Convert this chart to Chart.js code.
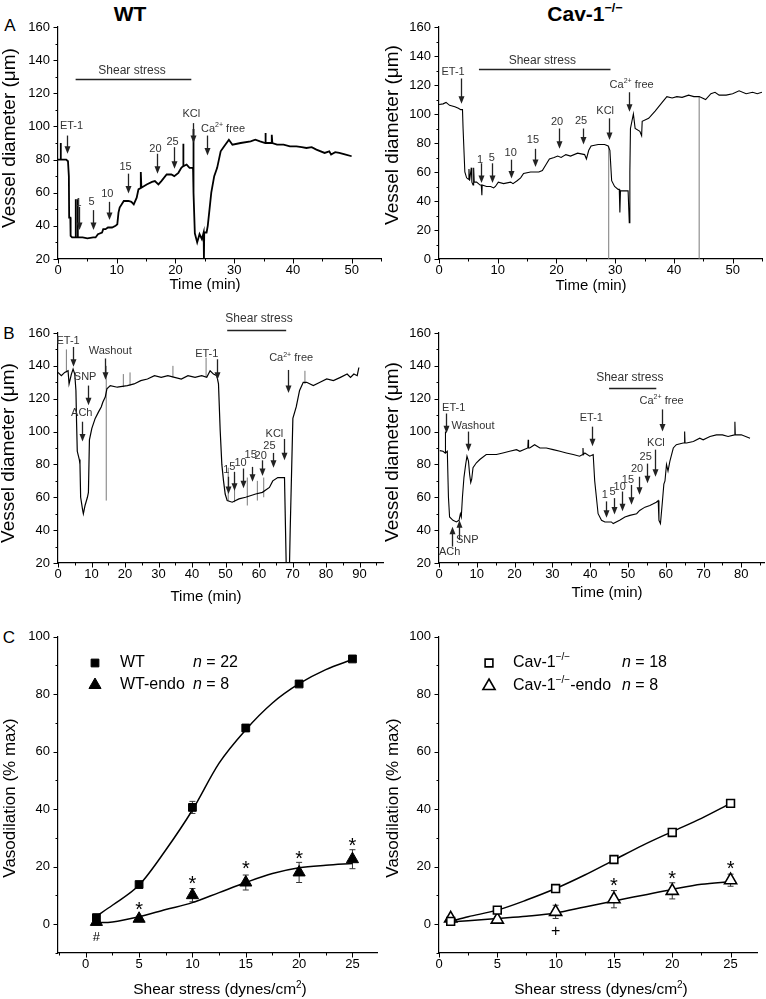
<!DOCTYPE html>
<html>
<head>
<meta charset="utf-8">
<script src="https://cdn.jsdelivr.net/npm/chart.js@4.4.1/dist/chart.umd.min.js"></script>
<style>
body { margin: 0; background: #fff; width: 766px; height: 999px; position: relative; overflow: hidden;
       font-family: "Liberation Sans", Arial, Helvetica, sans-serif; }
canvas { position: absolute; }
.ctr { position: absolute; transform: translate(-50%, -50%); white-space: nowrap; color: #000; line-height: 1; }
.ctr sup { font-size: 0.6em; vertical-align: 0.7em; }
</style>
</head>
<body>
<div class="ctr" style="left:130px;top:13px;font-size:21px;font-weight:bold">WT</div>
<div class="ctr" style="left:585px;top:13px;font-size:21px;font-weight:bold">Cav-1<sup>−/−</sup></div>
<div class="ctr" style="left:10px;top:25px;font-size:17px">A</div>
<div class="ctr" style="left:9px;top:333px;font-size:17px">B</div>
<div class="ctr" style="left:9px;top:637px;font-size:17px">C</div>

<canvas id="aWt" width="385" height="296" style="left:0;top:0"></canvas>
<canvas id="aCav" width="385" height="296" style="left:381px;top:0"></canvas>
<canvas id="bWt" width="385" height="297" style="left:0;top:310px"></canvas>
<canvas id="bCav" width="385" height="297" style="left:381px;top:310px"></canvas>
<canvas id="cWt" width="385" height="379" style="left:0;top:620px"></canvas>
<canvas id="cCav" width="385" height="379" style="left:381px;top:620px"></canvas>

<script>
const FONT = '"Liberation Sans", Arial, Helvetica, sans-serif';
Chart.defaults.font.family = FONT;

// ---------- ticks ----------
const aTimeTicks = [0, 5, 10, 15, 20, 25, 30, 35, 40, 45, 50, 55];
const bWtTimeTicks = [0, 5, 10, 15, 20, 25, 30, 35, 40, 45, 50, 55, 60, 65, 70, 75, 80, 85, 90, 95];
const bCavTimeTicks = [0, 5, 10, 15, 20, 25, 30, 35, 40, 45, 50, 55, 60, 65, 70, 75, 80, 85];
const diam20Ticks = [20, 30, 40, 50, 60, 70, 80, 90, 100, 110, 120, 130, 140, 150, 160];
const diam0Ticks = [0, 10, 20, 30, 40, 50, 60, 70, 80, 90, 100, 110, 120, 130, 140, 150, 160];
const cWtShearTicks = [-2.5, 0, 2.5, 5, 7.5, 10, 12.5, 15, 17.5, 20, 22.5, 25];
const cCavShearTicks = [0, 2.5, 5, 7.5, 10, 12.5, 15, 17.5, 20, 22.5, 25];
const vasoTicks = [-10, 0, 10, 20, 30, 40, 50, 60, 70, 80, 90, 100];

// ---------- A: diameter traces [time (min), diameter (um)] ----------
const aWtTrace = [
  [0, 80], [0.45, 80], [0.45, 90], [0.5, 80], [1.4, 80], [1.7, 79], [1.85, 70], [1.9, 45], [2.1, 45], [2.15, 34],
  [2.4, 33], [3.0, 33], [3.0, 56], [3.05, 33], [3.35, 33], [3.35, 56], [3.4, 33], [4.2, 33], [5, 32.5], [6, 33],
  [6.4, 33], [6.8, 35], [7.5, 36], [7.7, 38], [8.1, 38], [8.5, 39], [9.2, 39], [9.8, 40], [10.1, 41], [10.3, 48],
  [10.5, 51], [11.2, 55], [12, 55], [12.5, 54.5], [12.9, 53], [13.4, 57], [13.7, 62], [14.1, 63], [14.1, 72.5],
  [14.2, 63], [15.1, 65], [16, 66.5], [16.5, 67], [17.1, 65], [17.6, 67], [18.5, 71], [19.3, 71], [19.8, 70],
  [20.5, 72], [21.0, 75], [21.3, 76], [21.3, 89.5], [21.4, 76], [21.9, 77], [22.4, 75], [22.9, 75], [23, 74],
  [23.05, 98.5], [23.1, 60], [23.3, 35.5], [23.7, 30], [24.1, 35], [24.5, 32], [24.8, 36], [24.85, 20], [24.9, 36],
  [25.3, 36], [25.5, 40], [25.8, 50], [26.1, 60], [26.6, 70], [27.1, 75], [27.7, 85], [28.3, 88], [29.1, 92],
  [29.7, 89], [31.1, 90], [32.8, 91], [33.6, 92], [34.4, 91], [35.3, 90], [35.3, 96], [35.4, 90], [36.4, 90],
  [36.4, 95], [36.5, 90], [37.3, 89], [38.4, 89], [39.5, 88], [40.6, 88], [41.5, 87.5], [42.3, 87], [43.2, 87.5],
  [44, 86], [45.4, 84], [46.2, 85], [46.5, 83], [47.2, 84.5], [47.9, 84], [49, 83], [50, 82]
];
const aCavTrace = [
  [0, 106.5], [0.7, 107], [1.2, 108], [1.8, 106], [2.7, 105], [3.3, 104], [3.7, 103], [4.0, 103], [4.1, 90],
  [4.4, 60], [4.7, 56], [5.0, 55], [5.1, 62], [5.2, 54], [5.5, 63], [5.6, 53], [5.8, 51], [5.9, 63], [6.0, 53],
  [6.4, 53], [7.0, 51], [7.2, 51], [7.3, 44], [7.35, 51], [8.1, 50], [8.8, 50], [9.3, 49], [9.6, 50], [10.1, 53],
  [11.0, 52], [12.2, 53], [12.6, 52], [13.3, 54], [13.9, 56], [14.4, 59], [15.6, 60], [17, 60], [17.6, 61],
  [18.2, 65], [18.8, 69], [19.6, 70], [20.2, 71], [20.8, 70], [21.6, 72], [22.4, 71], [23.6, 73], [24.8, 72],
  [25.1, 69], [25.5, 75], [25.9, 78], [27.1, 79], [28.2, 79], [28.8, 78], [29.1, 75], [29.4, 54], [29.9, 50],
  [30.5, 48], [30.7, 48], [30.8, 32], [30.9, 47], [31.7, 47], [32.2, 47], [32.4, 25], [32.5, 60], [32.6, 90],
  [33.1, 100], [33.4, 90], [34.2, 88], [34.5, 85], [34.6, 95], [35.7, 97], [36.8, 102], [38, 108], [38.8, 112],
  [39.7, 111], [40.5, 112], [41.4, 111.5], [42.5, 113], [43.4, 112], [44.3, 112], [45.4, 110], [46.3, 114],
  [47, 115], [47.7, 113], [48.9, 113], [50, 114], [51.1, 116], [52.3, 114], [53.4, 115], [54.2, 114], [55, 115]
];
// gray vertical artefacts [time, low, high]
const aCavSpikes = [[28.9, 0, 78], [44.3, 0, 112]];

// ---------- B: diameter traces ----------
const bWtTrace = [
  [0, 136], [1, 134], [2, 136], [3, 137], [3.3, 129], [4, 135], [4.5, 138], [5, 135], [5.35, 125], [5.55, 105],
  [5.75, 88], [6.36, 83], [6.56, 80], [6.76, 60], [7.37, 52], [7.57, 50], [8.07, 55], [8.78, 60], [9.08, 63],
  [9.38, 95], [10.1, 102], [11.1, 108], [12.1, 112], [12.9, 115], [13.4, 118], [14.1, 121], [14.6, 126],
  [15.6, 128], [17.7, 127], [20.7, 128], [22.7, 129], [24.7, 131], [26.7, 132], [28.8, 134], [30.8, 133],
  [32.8, 134], [34.8, 133], [36.8, 132], [38.8, 134], [40.9, 133], [42.9, 134], [44.4, 133], [45.4, 137],
  [46.4, 135], [47.4, 134], [47.9, 129], [48.4, 101], [48.9, 80], [49.4, 70], [49.9, 62], [50.5, 58], [52, 57],
  [54, 59], [56, 60], [59, 62], [61, 63], [63.1, 66], [64.1, 70], [65.6, 72], [67.6, 72], [68.1, 20], [69.1, 20],
  [69.3, 40], [70.1, 108], [71.1, 115], [72.1, 125], [73.2, 130], [74.2, 130], [76.2, 128], [78.2, 130],
  [80.2, 132], [82.2, 131], [84.3, 133], [86.3, 135], [87.3, 133], [88.3, 135], [89.3, 134], [89.8, 139]
];
const bWtSpikes = [
  [2.5, 136, 150], [14.4, 58, 140], [19.5, 127, 135], [21.5, 128, 136], [34.3, 133, 140], [44.2, 133, 145],
  [50.8, 58, 78], [52.7, 57, 73], [56.5, 55, 72], [59.5, 58, 70], [61.4, 60, 72], [73.7, 129, 137]
];
const bCavTrace = [
  [0.2, 88.4], [1.06, 88], [1.6, 87], [1.68, 100], [1.75, 87], [2.2, 88], [2.5, 60], [2.8, 48], [3.7, 46],
  [4.6, 45], [5.3, 46], [5.65, 50], [5.9, 48], [6.2, 60], [6.6, 72], [7.06, 80], [7.4, 85], [7.8, 82], [8.1, 74],
  [8.4, 69], [8.65, 71], [9.0, 78], [9.9, 81], [10.8, 83], [12.5, 86], [15.2, 86], [16.9, 87], [18.7, 88],
  [20.5, 89], [21.4, 88], [23.5, 90], [23.6, 95], [23.7, 90], [24, 90], [25.3, 92], [26.7, 90], [28.4, 90],
  [30.2, 89], [32, 88], [33.7, 87], [35.5, 86], [37.2, 85], [38.0, 86], [38.1, 90], [38.2, 86], [38.6, 87],
  [39.9, 85], [40.8, 86], [41.2, 70], [42.1, 50], [43, 46], [43.9, 45], [45.6, 45], [46.1, 44], [47.8, 46],
  [49.2, 48], [50.5, 49], [52.3, 50], [53.1, 52], [54.5, 54], [55.8, 55], [56.7, 56], [57.5, 57], [58, 58],
  [58.2, 46], [58.6, 44], [59.1, 57], [59.5, 68], [59.8, 70], [60.2, 80], [60.6, 76], [61.1, 82], [62, 90],
  [62.8, 92], [64.6, 93], [64.9, 93], [65, 100], [65.1, 93], [65.5, 93], [67.3, 94], [69, 96], [69.9, 95],
  [71.7, 97], [73.4, 98], [75, 98], [76.5, 97], [78.2, 98], [78.3, 106], [78.4, 98], [80, 98], [82.3, 96]
];

// ---------- C: shear-stress response ----------
const cShear = [1, 5, 10, 15, 20, 25];
const cWtMean = [2.3, 13.8, 40.6, 68.2, 83.5, 92.2];
const cWtErr = [1, 1, 2.1, 1.2, 0.8, 0.8];
const cWtEndoMean = [0.8, 1.9, 10.1, 14.5, 18, 22.6];
const cWtEndoErr = [0.5, 0.8, 2.3, 2.6, 3.5, 3.3];
const cCavMean = [1, 4.9, 12.4, 22.5, 31.9, 42];
const cCavErr = [0.5, 0.6, 0.6, 0.8, 0.8, 1.2];
const cCavEndoMean = [2, 1.6, 4.3, 8.7, 11.6, 15.3];
const cCavEndoErr = [0.8, 1, 2.3, 3, 2.8, 2.1];
const cFitShear = [1, 2.5, 5, 7.5, 10, 12.5, 15, 17.5, 20, 22.5, 25];
const cWtFit = [2.8, 6.6, 13.6, 25.8, 39.7, 56, 67.6, 76.9, 83.6, 88.5, 92];
const cWtEndoFit = [0.5, 0.8, 2.6, 5.1, 7.5, 11, 14.5, 17.6, 19.6, 20.5, 21.1];
const cCavFit = [1, 2.6, 4.9, 8.4, 12.4, 17.1, 22.3, 27.5, 32.2, 36.8, 42];
const cCavEndoFit = [0.8, 1.2, 2, 2.8, 3.9, 6, 8.1, 10.1, 12.1, 13.9, 14.8];

// ---------- annotations: [time, diameter, text, size] / arrows [time, from, to] / bars [t1, t2, y] ----------
const panels = {
  aWt: {
    xTitle: ['Time (min)', 205, 285, 15], yTitle: ['Vessel diameter (\u03bcm)', 10, 138, 19],
    notes: [[2.3, 100, 'ET-1'], [3.5, 54, '1'], [5.7, 54.5, '5'], [8.4, 59.5, '10'], [11.5, 75.5, '15'],
            [16.6, 86.5, '20'], [19.5, 90.5, '25'], [22.7, 107.5, 'KCl'], [28.1, 98.5, 'Ca^{2+} free'],
            [12.6, 133.5, 'Shear stress', 12]],
    arrows: [[1.5, 94.5, 83.5], [3.5, 51.5, 37.5], [5.9, 49.5, 37.5], [8.7, 54.5, 43.5], [11.9, 71.5, 59.5],
             [16.8, 83.5, 71.5], [19.7, 87.5, 74.5], [23.0, 102, 90], [25.4, 94.5, 82.5]],
    bars: [[3, 22.7, 128.5]]
  },
  aCav: {
    xTitle: ['Time (min)', 210, 286, 15], yTitle: ['Vessel diameter (\u03bcm)', 12, 135, 19],
    notes: [[2.4, 129, 'ET-1'], [7.0, 68.5, '1'], [9.0, 70, '5'], [12.2, 73, '10'], [16.0, 82, '15'],
            [20.1, 94.5, '20'], [24.2, 95.5, '25'], [28.3, 102, 'KCl'], [32.8, 120, 'Ca^{2+} free'],
            [17.6, 136.5, 'Shear stress', 12]],
    arrows: [[3.7, 124.5, 107], [7.1, 66, 52.5], [9.1, 66, 52.5], [12.2, 68.5, 55.5], [16.3, 76, 63.5],
             [20.5, 90, 76], [24.5, 90, 79], [28.9, 97, 82], [32.3, 115, 101.5]],
    bars: [[6.8, 29.2, 131.3]]
  },
  bWt: {
    xTitle: ['Time (min)', 206, 287, 15], yTitle: ['Vessel diameter (\u03bcm)', 9, 143, 19],
    notes: [[3.0, 155, 'ET-1'], [8.1, 133, 'SNP'], [7.1, 111.5, 'ACh'], [15.6, 149, 'Washout'],
            [44.4, 147.5, 'ET-1'], [69.6, 144.5, 'Ca^{2+} free'], [64.6, 98.5, 'KCl'], [63.1, 91, '25'],
            [60.5, 85, '20'], [57.5, 86, '15'], [54.5, 81, '10'], [52, 78.5, '5'], [50.2, 76.5, '1'],
            [60, 169, 'Shear stress', 12]],
    arrows: [[4.5, 151.5, 139.5], [9.1, 128, 116], [7.1, 106, 94], [13.9, 144.5, 131.5], [47.4, 144, 131.5],
             [68.6, 137.5, 123.5], [67.4, 95.5, 82.5], [64.3, 87, 78], [61, 82.5, 73], [58, 78.5, 69.5],
             [55.2, 77.5, 65.5], [52.6, 75.5, 64], [50.8, 72.5, 62]],
    bars: [[50.5, 68.1, 161.8]]
  },
  bCav: {
    xTitle: ['Time (min)', 226, 283, 15], yTitle: ['Vessel diameter (\u03bcm)', 12, 142, 19],
    notes: [[3.9, 114.5, 'ET-1'], [9, 103.5, 'Washout'], [2.8, 27, 'ACh'], [7.5, 34, 'SNP'], [40.3, 108, 'ET-1'],
            [58.9, 118.5, 'Ca^{2+} free'], [57.4, 93, 'KCl'], [54.7, 84.5, '25'], [52.4, 77, '20'],
            [50, 70.5, '15'], [47.8, 66, '10'], [45.9, 63.5, '5'], [43.9, 61.5, '1'],
            [50.5, 133, 'Shear stress', 12]],
    arrows: [[1.8, 111, 99], [7.7, 100, 88], [3.5, 30, 42], [5.3, 34, 46], [40.6, 103, 91], [58.9, 113.5, 100],
             [57.1, 89, 72.5], [55.1, 80.5, 68.5], [52.8, 72.5, 61.5], [50.8, 67.5, 55.5], [48.4, 63.5, 51.5],
             [46.2, 59.5, 49.5], [44.1, 57.5, 47.5]],
    bars: [[45, 57.5, 126.8]]
  },
  cWt: {
    xTitle: ['Shear stress (dynes/cm^{2})', 220, 370, 15.5], yTitle: ['Vasodilation (% max)', 10, 178, 17],
    noteColor: '#000',
    notes: [[5, 6.4, '*', 20], [10, 15.5, '*', 20], [15, 20.5, '*', 20], [20, 24, '*', 20], [25, 28.5, '*', 20],
            [1, -4.5, '#', 13]],
    errors: [[cWtMean, cWtErr], [cWtEndoMean, cWtEndoErr]],
    legend: [['rect', true, 95, 43, 'WT', 120, '~{n} = 22', 193],
             ['triangle', true, 95, 65, 'WT-endo', 120, '~{n} = 8', 193]]
  },
  cCav: {
    xTitle: ['Shear stress (dynes/cm^{2})', 220, 370, 15.5], yTitle: ['Vasodilation (% max)', 12, 178, 17],
    noteColor: '#000',
    notes: [[15, 14.5, '*', 20], [20, 17, '*', 20], [25, 20.5, '*', 20], [10, -2.5, '+', 16]],
    errors: [[cCavMean, cCavErr], [cCavEndoMean, cCavEndoErr]],
    legend: [['rect', false, 108, 43, 'Cav-1^{\u2212/\u2212}', 132, '~{n} = 18', 241],
             ['triangle', false, 108, 66, 'Cav-1^{\u2212/\u2212}-endo', 132, '~{n} = 8', 241]]
  }
};

// ---------- drawing helpers ----------
function parseRich(text) {
  const parts = [];
  const re = /([\^~])\{([^}]*)\}/g;
  let last = 0, m;
  while ((m = re.exec(text)) !== null) {
    if (m.index > last) parts.push({ s: text.slice(last, m.index), k: '' });
    parts.push({ s: m[2], k: m[1] });
    last = re.lastIndex;
  }
  if (last < text.length) parts.push({ s: text.slice(last), k: '' });
  return parts;
}

function partFont(p, size) {
  const sz = p.k === '^' ? Math.round(size * 0.62) : size;
  return (p.k === '~' ? 'italic ' : '') + sz + 'px ' + FONT;
}

function drawRich(ctx, text, x, y, size, align, color) {
  const parts = parseRich(text);
  let w = 0;
  parts.forEach(p => { ctx.font = partFont(p, size); p.w = ctx.measureText(p.s).width; w += p.w; });
  let cx = align === 'center' ? x - w / 2 : (align === 'right' ? x - w : x);
  ctx.fillStyle = color;
  ctx.textAlign = 'left';
  ctx.textBaseline = 'middle';
  parts.forEach(p => {
    ctx.font = partFont(p, size);
    ctx.fillText(p.s, cx, p.k === '^' ? y - size * 0.33 : y);
    cx += p.w;
  });
}

function drawMarker(ctx, kind, x, y, r, filled) {
  ctx.beginPath();
  if (kind === 'rect') {
    const h = r * Math.SQRT1_2;
    ctx.rect(x - h, y - h, 2 * h, 2 * h);
  } else {
    for (let i = 0; i < 3; i++) {
      const a = i * 2 * Math.PI / 3;
      const px = x + Math.sin(a) * r, py = y - Math.cos(a) * r;
      if (i === 0) ctx.moveTo(px, py); else ctx.lineTo(px, py);
    }
    ctx.closePath();
  }
  ctx.fillStyle = filled ? '#000' : '#fff';
  ctx.fill();
  ctx.lineWidth = filled ? 1 : 1.6;
  ctx.strokeStyle = '#000';
  ctx.stroke();
}

const panelPlugin = {
  id: 'panelDecor',
  beforeDatasetsDraw(chart) {
    const spec = panels[chart.canvas.id];
    if (!spec.errors) return;
    const ctx = chart.ctx, xs = chart.scales.x, ys = chart.scales.y;
    ctx.save();
    ctx.strokeStyle = '#333';
    ctx.lineWidth = 1;
    spec.errors.forEach(([mean, err]) => {
      cShear.forEach((xv, i) => {
        const px = xs.getPixelForValue(xv);
        const top = ys.getPixelForValue(mean[i] + err[i]);
        const bot = ys.getPixelForValue(mean[i] - err[i]);
        ctx.beginPath();
        ctx.moveTo(px, top); ctx.lineTo(px, bot);
        ctx.moveTo(px - 3, top); ctx.lineTo(px + 3, top);
        ctx.moveTo(px - 3, bot); ctx.lineTo(px + 3, bot);
        ctx.stroke();
      });
    });
    ctx.restore();
  },
  afterDraw(chart) {
    const spec = panels[chart.canvas.id];
    const ctx = chart.ctx, xs = chart.scales.x, ys = chart.scales.y;
    ctx.save();
    // outward tick marks, long for labelled ticks
    ctx.strokeStyle = '#000';
    ctx.lineWidth = 1;
    xs.ticks.forEach(tk => {
      const len = tk.label !== '' ? 4.5 : 2.5;
      const p = Math.round(xs.getPixelForValue(tk.value)) + 0.5;
      ctx.beginPath(); ctx.moveTo(p, ys.bottom); ctx.lineTo(p, ys.bottom + len); ctx.stroke();
    });
    ys.ticks.forEach(tk => {
      const len = tk.label !== '' ? 4.5 : 2.5;
      const p = Math.round(ys.getPixelForValue(tk.value)) + 0.5;
      ctx.beginPath(); ctx.moveTo(xs.left, p); ctx.lineTo(xs.left - len, p); ctx.stroke();
    });
    // axis titles
    const [xt, xx, xy, xsz] = spec.xTitle;
    drawRich(ctx, xt, xx, xy, xsz, 'center', '#000');
    const [yt, yx, yy, ysz] = spec.yTitle;
    ctx.save();
    ctx.translate(yx, yy);
    ctx.rotate(-Math.PI / 2);
    drawRich(ctx, yt, 0, 0, ysz, 'center', '#000');
    ctx.restore();
    // bars and arrows
    ctx.strokeStyle = '#222';
    ctx.fillStyle = '#222';
    (spec.bars || []).forEach(([t1, t2, y]) => {
      const py = Math.round(ys.getPixelForValue(y)) + 0.5;
      ctx.lineWidth = 1.5;
      ctx.beginPath(); ctx.moveTo(xs.getPixelForValue(t1), py); ctx.lineTo(xs.getPixelForValue(t2), py); ctx.stroke();
    });
    (spec.arrows || []).forEach(([t, y1, y2]) => {
      const px = Math.round(xs.getPixelForValue(t)) + 0.5;
      const p1 = ys.getPixelForValue(y1), p2 = ys.getPixelForValue(y2);
      const dir = Math.sign(p2 - p1);
      ctx.lineWidth = 1.3;
      ctx.beginPath(); ctx.moveTo(px, p1); ctx.lineTo(px, p2 - dir * 5); ctx.stroke();
      ctx.beginPath();
      ctx.moveTo(px, p2); ctx.lineTo(px - 3, p2 - dir * 7.5); ctx.lineTo(px + 3, p2 - dir * 7.5);
      ctx.closePath(); ctx.fill();
    });
    // text notes
    (spec.notes || []).forEach(([t, y, text, size]) => {
      const sz = size || 11;
      let py = ys.getPixelForValue(y);
      if (text === '*') py += sz * 0.22;
      drawRich(ctx, text, xs.getPixelForValue(t), py, sz, 'center', spec.noteColor || '#333');
    });
    // legend
    (spec.legend || []).forEach(([kind, filled, mx, my, label, lx, nText, nx]) => {
      drawMarker(ctx, kind, mx, my, kind === 'rect' ? 5.5 : 7, filled);
      drawRich(ctx, label, lx, my, 16, 'left', '#000');
      drawRich(ctx, nText, nx, my, 16, 'left', '#000');
    });
    ctx.restore();
  }
};

// ---------- chart builders ----------
function axisOptions(cfg) {
  return {
    responsive: false,
    animation: false,
    events: [],
    layout: { padding: { top: cfg.padTop, right: 2, left: 0, bottom: 0 } },
    plugins: { legend: { display: false }, tooltip: { enabled: false } },
    scales: {
      x: {
        type: 'linear', min: cfg.xMin, max: cfg.xMax,
        afterBuildTicks: s => { s.ticks = cfg.xTicks.map(v => ({ value: v })); },
        afterFit: s => { s.height = cfg.xHeight; },
        ticks: { autoSkip: false, maxRotation: 0, padding: 4, color: '#000', font: { size: 13 }, callback: cfg.xLabel },
        grid: { display: true, drawOnChartArea: false, drawTicks: false },
        border: { display: true, color: '#000', width: 1.2 }
      },
      y: {
        type: 'linear', min: cfg.yMin, max: cfg.yMax,
        afterBuildTicks: s => { s.ticks = cfg.yTicks.map(v => ({ value: v })); },
        afterFit: s => { s.width = 58; },
        ticks: { autoSkip: false, padding: 8, color: '#000', font: { size: 13 }, callback: cfg.yLabel },
        grid: { display: true, drawOnChartArea: false, drawTicks: false },
        border: { display: true, color: '#000', width: 1.2 }
      }
    }
  };
}

function traceChart(id, trace, spikes, lineWidth, cfg) {
  const datasets = [{
    data: trace.map(p => ({ x: p[0], y: p[1] })),
    borderColor: '#000', borderWidth: lineWidth, pointRadius: 0, tension: 0, fill: false
  }];
  if (spikes) {
    const pts = [];
    spikes.forEach(s => { pts.push({ x: s[0], y: s[1] }, { x: s[0], y: s[2] }, { x: s[0], y: null }); });
    datasets.push({ data: pts, borderColor: '#7a7a7a', borderWidth: 1, pointRadius: 0, spanGaps: false, fill: false });
  }
  return new Chart(document.getElementById(id), {
    type: 'line', data: { datasets }, options: axisOptions(cfg), plugins: [panelPlugin]
  });
}

function doseChart(id, mean1, mean2, fit1, fit2, filled, cfg) {
  const markers = (mean, style, r) => ({
    data: cShear.map((x, i) => ({ x, y: mean[i] })),
    showLine: false, pointStyle: style, pointRadius: r,
    backgroundColor: filled ? '#000' : '#fff', borderColor: '#000', borderWidth: filled ? 1 : 1.6
  });
  const fit = vals => ({
    data: cFitShear.map((x, i) => ({ x, y: vals[i] })),
    borderColor: '#000', borderWidth: 1.5, pointRadius: 0, cubicInterpolationMode: 'monotone', fill: false
  });
  return new Chart(document.getElementById(id), {
    type: 'line',
    data: { datasets: [markers(mean1, 'rect', 5.5), markers(mean2, 'triangle', 7), fit(fit1), fit(fit2)] },
    options: axisOptions(cfg),
    plugins: [panelPlugin]
  });
}

const every10 = v => (v % 10 === 0 ? v : '');
const every20 = v => (v % 20 === 0 ? v : '');
const shearLabel = v => (v >= 0 && v % 5 === 0 ? v : '');
const vasoLabel = v => (v >= 0 && v % 20 === 0 ? v : '');

traceChart('aWt', aWtTrace, null, 1.8, {
  padTop: 27, xHeight: 37, xMin: 0, xMax: 55, xTicks: aTimeTicks, xLabel: every10,
  yMin: 20, yMax: 160, yTicks: diam20Ticks, yLabel: every20
});
traceChart('aCav', aCavTrace, aCavSpikes, 1.1, {
  padTop: 27, xHeight: 37, xMin: 0, xMax: 55, xTicks: aTimeTicks, xLabel: every10,
  yMin: 0, yMax: 160, yTicks: diam0Ticks, yLabel: every20
});
traceChart('bWt', bWtTrace, bWtSpikes, 1.2, {
  padTop: 23, xHeight: 44, xMin: 0, xMax: 97, xTicks: bWtTimeTicks, xLabel: every10,
  yMin: 20, yMax: 160, yTicks: diam20Ticks, yLabel: every20
});
traceChart('bCav', bCavTrace, null, 1.1, {
  padTop: 23, xHeight: 44, xMin: 0, xMax: 86, xTicks: bCavTimeTicks, xLabel: every10,
  yMin: 20, yMax: 160, yTicks: diam20Ticks, yLabel: every20
});
doseChart('cWt', cWtMean, cWtEndoMean, cWtFit, cWtEndoFit, true, {
  padTop: 16.5, xHeight: 46, xMin: -2.6, xMax: 27.3, xTicks: cWtShearTicks, xLabel: shearLabel,
  yMin: -10, yMax: 100, yTicks: vasoTicks, yLabel: vasoLabel
});
doseChart('cCav', cCavMean, cCavEndoMean, cCavFit, cCavEndoFit, false, {
  padTop: 16.5, xHeight: 46, xMin: 0, xMax: 27.3, xTicks: cCavShearTicks, xLabel: shearLabel,
  yMin: -10, yMax: 100, yTicks: vasoTicks, yLabel: vasoLabel
});
</script>
</body>
</html>
